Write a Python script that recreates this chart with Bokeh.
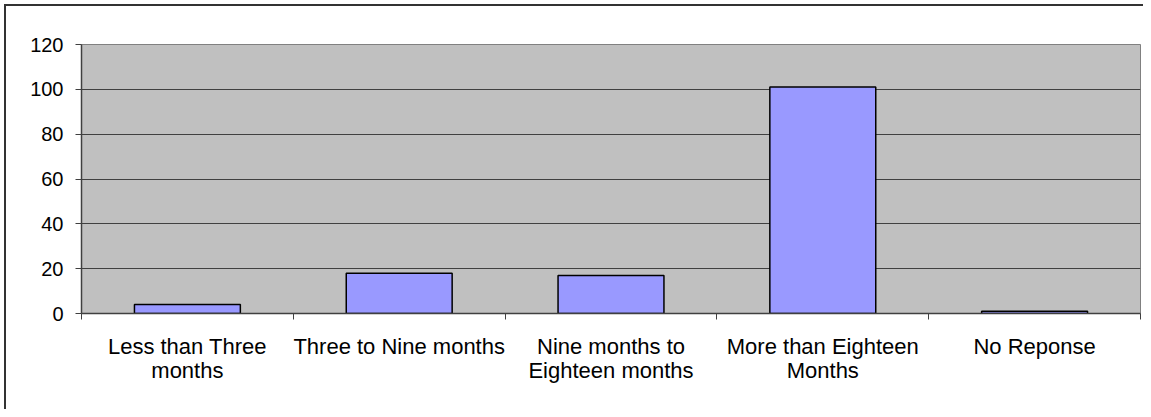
from bokeh.plotting import figure
from bokeh.models import LinearAxis, FixedTicker, Range1d, Grid
from bokeh.embed import file_html
from bokeh.resources import INLINE

categories = ["Less than Three\nmonths", "Three to Nine months", "Nine months to\nEighteen months",
              "More than Eighteen\nMonths", "No Reponse"]
counts = [4, 18, 17, 101, 1]
y_ticks = [0, 20, 40, 60, 80, 100, 120]

n = len(categories)
centers = [i + 0.5 for i in range(n)]
bounds = [float(i) for i in range(n + 1)]

p = figure(width=1143, height=409, output_backend="svg", toolbar_location=None,
           x_range=Range1d(0, n), y_range=Range1d(0, 120),
           x_axis_location=None, y_axis_location=None,
           min_border_left=81, min_border_top=44, min_border_right=3, min_border_bottom=96)
p.styles = {
    "background": "linear-gradient(#333333,#333333) 4px 4px / 100% 2px no-repeat, "
                  "linear-gradient(#333333,#333333) 4px 4px / 2px 100% no-repeat, white"
}
p.background_fill_color = "#C0C0C0"
p.border_fill_alpha = 0
p.outline_line_color = "#808080"
p.outline_line_width = 1

p.vbar(x=centers, top=counts, width=0.5, bottom=0,
       fill_color="#9999FF", line_color="black", line_width=1.5)

# y axis
ya = LinearAxis(ticker=FixedTicker(ticks=y_ticks))
ya.axis_line_color = "#404040"
ya.axis_line_width = 1.5
ya.major_tick_out = 6
ya.major_tick_in = 0
ya.major_tick_line_color = "#404040"
ya.minor_tick_out = 0
ya.minor_tick_in = 0
ya.major_label_standoff = 12
ya.major_label_text_font = "Liberation Sans"
ya.major_label_text_font_size = "20px"
ya.major_label_text_color = "black"
p.add_layout(ya, "left")

# x axis: labels at category centres, ticks at category boundaries
xa = LinearAxis(ticker=FixedTicker(ticks=centers, minor_ticks=bounds))
xa.major_label_overrides = {c: lab for c, lab in zip(centers, categories)}
xa.axis_line_color = "#404040"
xa.axis_line_width = 1.5
xa.major_tick_line_color = None
xa.major_tick_out = 0
xa.major_tick_in = 0
xa.minor_tick_line_color = "#404040"
xa.minor_tick_out = 6
xa.minor_tick_in = 0
xa.major_label_standoff = 14
xa.major_label_text_font = "Liberation Sans"
xa.major_label_text_font_size = "22px"
xa.major_label_text_line_height = 0.97
xa.major_label_text_color = "black"
xa.major_label_text_align = "center"
p.add_layout(xa, "below")

p.ygrid.visible = False
p.xgrid.visible = False
g = Grid(dimension=1, ticker=FixedTicker(ticks=y_ticks), grid_line_color="#404040", grid_line_width=1)
p.add_layout(g)

open("out.html", "w").write(file_html(p, INLINE))
